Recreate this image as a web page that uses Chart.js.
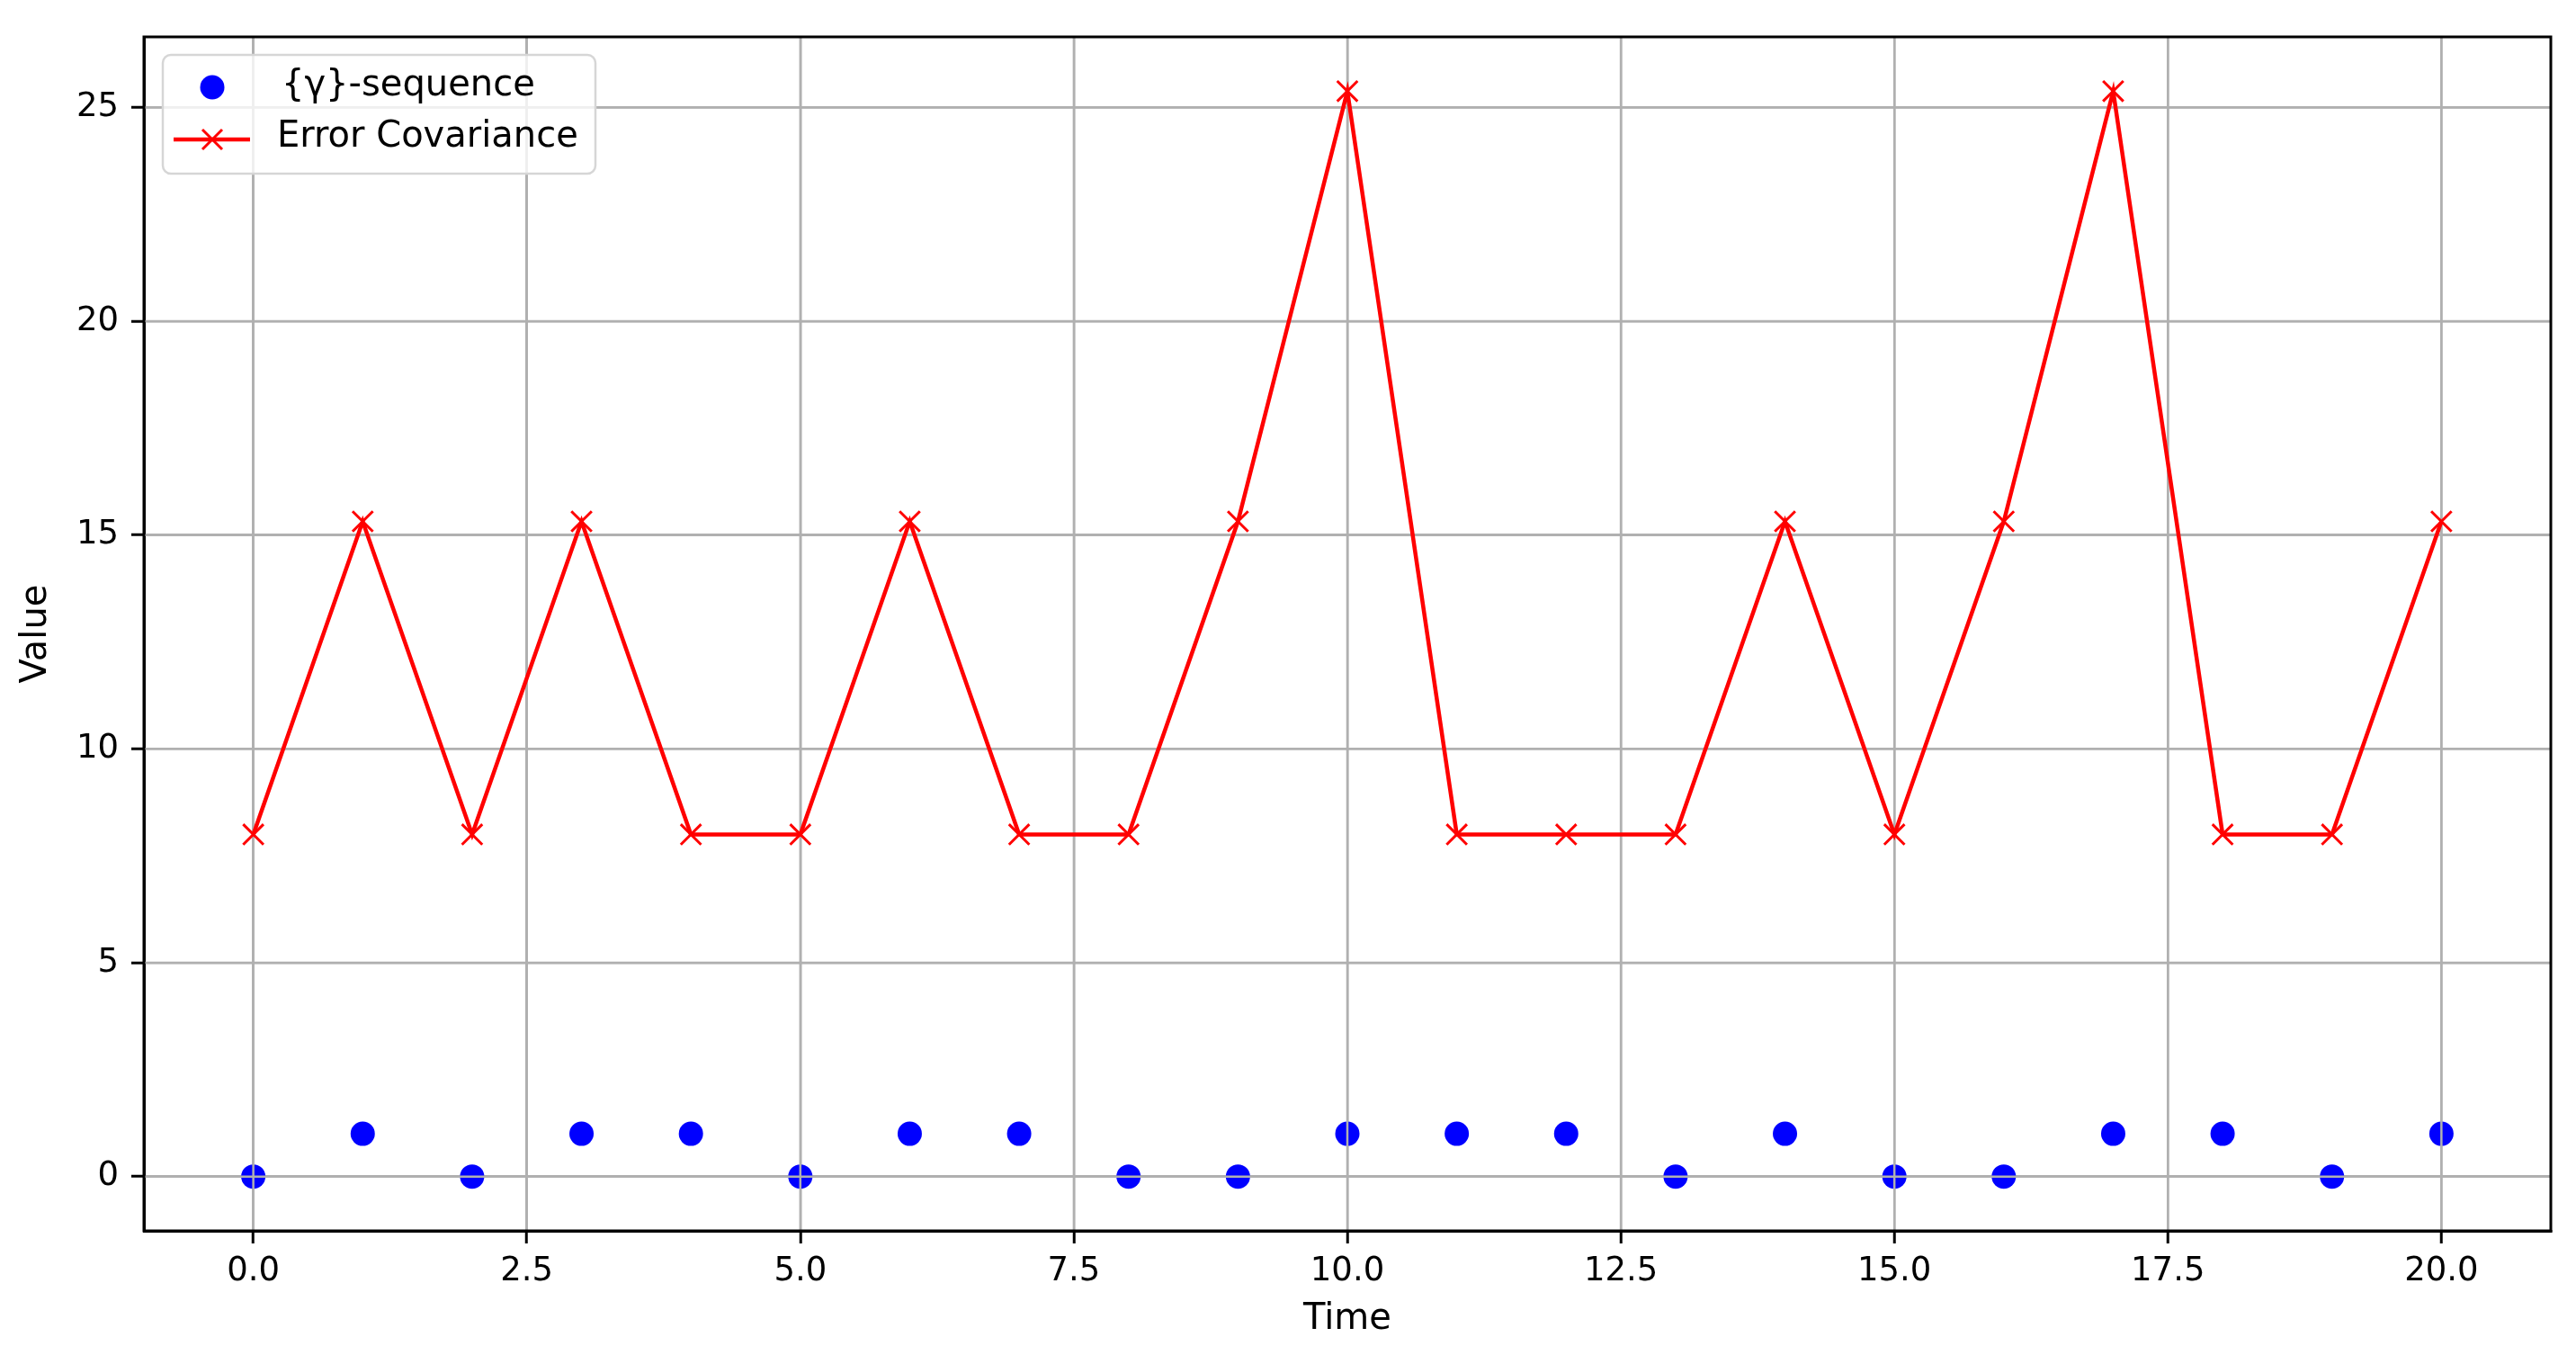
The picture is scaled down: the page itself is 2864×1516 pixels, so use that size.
<!DOCTYPE html>
<html>
<head>
<meta charset="utf-8">
<script src="https://cdn.jsdelivr.net/npm/chart.js@4/dist/chart.umd.min.js"></script>
<style>
  html, body { margin: 0; padding: 0; background: #fff; }
  #wrap { width: 2864px; height: 1516px; }
</style>
</head>
<body>
<div id="wrap"><canvas id="c" width="2864" height="1516"></canvas></div>
<script>
// ---- data ----
const timeSteps = [0, 1, 2, 3, 4, 5, 6, 7, 8, 9, 10, 11, 12, 13, 14, 15, 16, 17, 18, 19, 20];
const gammaSeq  = [0, 1, 0, 1, 1, 0, 1, 1, 0, 0, 1, 1, 1, 0, 1, 0, 0, 1, 1, 0, 1];
const errorCov  = [8.0, 15.32, 8.0, 15.32, 8.0, 8.0, 15.32, 8.0, 8.0, 15.32, 25.38, 8.0, 8.0, 8.0, 15.32, 8.0, 15.32, 25.38, 8.0, 8.0, 15.32];
const seriesLabels = ['{γ}-sequence', 'Error Covariance'];
const xTickValues = [0, 2.5, 5, 7.5, 10, 12.5, 15, 17.5, 20];
const yTickValues = [0, 5, 10, 15, 20, 25];
const axisTitles = { x: 'Time', y: 'Value' };

const FONT = "'DejaVu Sans', sans-serif";
const FS = 37;      // tick labels
const FS_LBL = 40;  // axis titles and legend
const GRID_COLOR = '#b0b0b0';
const GRID_W = 2.5;

// matplotlib draws grid lines above scatter collections but below lines
const gridOverScatter = {
  id: 'gridOverScatter',
  afterDatasetDraw(chart, args) {
    if (args.index !== 0) return;
    const { ctx, chartArea: a, scales } = chart;
    ctx.save();
    ctx.beginPath();
    ctx.rect(a.left, a.top, a.right - a.left, a.bottom - a.top);
    ctx.clip();
    ctx.strokeStyle = GRID_COLOR;
    ctx.lineWidth = GRID_W;
    scales.x.ticks.forEach(t => {
      const px = scales.x.getPixelForValue(t.value);
      ctx.beginPath(); ctx.moveTo(px, a.top); ctx.lineTo(px, a.bottom); ctx.stroke();
    });
    scales.y.ticks.forEach(t => {
      const py = scales.y.getPixelForValue(t.value);
      ctx.beginPath(); ctx.moveTo(a.left, py); ctx.lineTo(a.right, py); ctx.stroke();
    });
    ctx.restore();
  }
};

const framePlugin = {
  id: 'frame',
  afterDatasetsDraw(chart) {
    const { ctx, chartArea: a } = chart;
    ctx.save();
    ctx.strokeStyle = '#000';
    ctx.lineWidth = 3;
    ctx.strokeRect(a.left, a.top, a.right - a.left, a.bottom - a.top);
    ctx.restore();
  }
};

const legendPlugin = {
  id: 'mplLegend',
  afterDraw(chart) {
    const ctx = chart.ctx;
    const ds = chart.data.datasets;
    const bx = 181, by = 61, bw = 481, bh = 132, r = 9;
    ctx.save();
    ctx.beginPath();
    ctx.moveTo(bx + r, by);
    ctx.arcTo(bx + bw, by, bx + bw, by + bh, r);
    ctx.arcTo(bx + bw, by + bh, bx, by + bh, r);
    ctx.arcTo(bx, by + bh, bx, by, r);
    ctx.arcTo(bx, by, bx + bw, by, r);
    ctx.closePath();
    ctx.fillStyle = 'rgba(255,255,255,0.8)';
    ctx.fill();
    ctx.strokeStyle = '#d6d6d6';
    ctx.lineWidth = 2.5;
    ctx.stroke();

    // row 1: scatter marker
    ctx.fillStyle = ds[0].backgroundColor;
    ctx.beginPath();
    ctx.arc(236, 97, 13.5, 0, Math.PI * 2);
    ctx.fill();
    // row 2: line + cross
    ctx.strokeStyle = ds[1].borderColor;
    ctx.lineWidth = ds[1].borderWidth;
    ctx.beginPath();
    ctx.moveTo(193, 155);
    ctx.lineTo(278, 155);
    ctx.stroke();
    const d = 11;
    ctx.lineWidth = 3;
    ctx.beginPath();
    ctx.moveTo(236 - d, 155 - d); ctx.lineTo(236 + d, 155 + d);
    ctx.moveTo(236 - d, 155 + d); ctx.lineTo(236 + d, 155 - d);
    ctx.stroke();

    ctx.fillStyle = '#000';
    ctx.font = FS_LBL + 'px ' + FONT;
    ctx.textBaseline = 'middle';
    ctx.textAlign = 'left';
    ctx.fillText(ds[0].label, 313, 96);
    ctx.fillText(ds[1].label, 308, 153);
    ctx.restore();
  }
};

const scatterPts = timeSteps.map((t, i) => ({ x: t, y: gammaSeq[i] }));
const covPts = timeSteps.map((t, i) => ({ x: t, y: errorCov[i] }));

new Chart(document.getElementById('c'), {
  type: 'scatter',
  data: {
    datasets: [
      {
        label: seriesLabels[0],
        data: scatterPts,
        backgroundColor: '#0000ff',
        borderColor: '#0000ff',
        pointRadius: 13.5,
        pointHoverRadius: 13.5,
        borderWidth: 0,
        showLine: false,
        order: 2
      },
      {
        label: seriesLabels[1],
        data: covPts,
        showLine: true,
        borderColor: '#ff0000',
        backgroundColor: '#ff0000',
        borderWidth: 4.5,
        pointStyle: 'crossRot',
        pointRadius: 16,
        pointBorderWidth: 3,
        pointBorderColor: '#ff0000',
        tension: 0,
        order: 1
      }
    ]
  },
  options: {
    responsive: false,
    animation: false,
    devicePixelRatio: 1,
    layout: { padding: { left: 0, top: 41, right: 28, bottom: 0 } },
    plugins: {
      legend: { display: false },
      tooltip: { enabled: false }
    },
    scales: {
      x: {
        type: 'linear',
        min: -1.0,
        max: 21.0,
        afterBuildTicks(scale) { scale.ticks = xTickValues.map(v => ({ value: v })); },
        afterFit(scale) { scale.height = 148; },
        ticks: {
          callback: v => Number(v).toFixed(1),
          font: { family: FONT, size: FS },
          color: '#000',
          padding: 9,
          maxRotation: 0,
          autoSkip: false
        },
        grid: {
          color: GRID_COLOR,
          lineWidth: GRID_W,
          tickColor: '#000',
          tickWidth: 3,
          tickLength: 14
        },
        border: { display: true, color: '#000', width: 3 },
        title: {
          display: true,
          text: axisTitles.x,
          font: { family: FONT, size: FS_LBL },
          color: '#000',
          padding: { top: 0, bottom: 25 }
        }
      },
      y: {
        type: 'linear',
        min: -1.27,
        max: 26.65,
        afterBuildTicks(scale) { scale.ticks = yTickValues.map(v => ({ value: v })); },
        afterFit(scale) { scale.width = 160; },
        ticks: {
          callback: v => String(v),
          font: { family: FONT, size: FS },
          color: '#000',
          padding: 14,
          autoSkip: false
        },
        grid: {
          color: GRID_COLOR,
          lineWidth: GRID_W,
          tickColor: '#000',
          tickWidth: 3,
          tickLength: 14
        },
        border: { display: true, color: '#000', width: 3 },
        title: {
          display: true,
          text: axisTitles.y,
          font: { family: FONT, size: FS_LBL },
          color: '#000',
          padding: { top: 17, bottom: 0 }
        }
      }
    }
  },
  plugins: [gridOverScatter, framePlugin, legendPlugin]
});
</script>
</body>
</html>
